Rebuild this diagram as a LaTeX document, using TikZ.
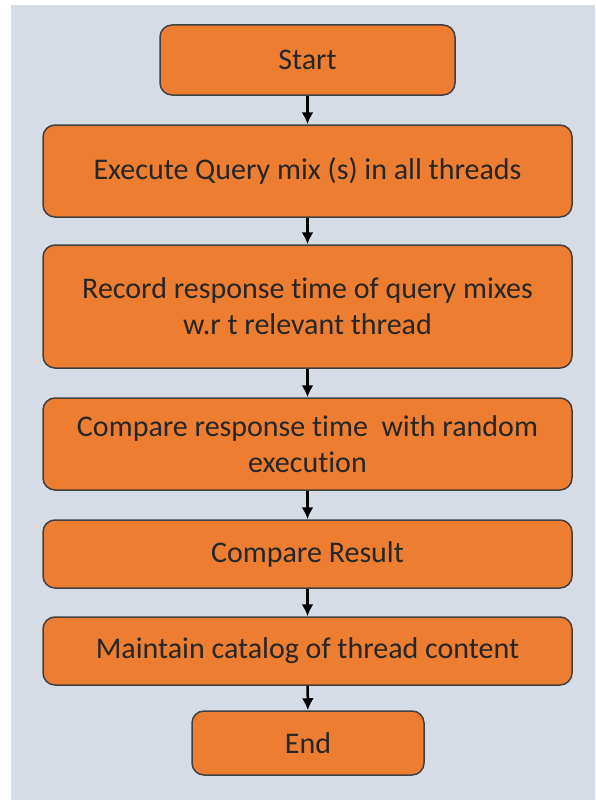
\documentclass[tikz,border=0pt]{standalone}
\usepackage{fontspec}
\setmainfont{Carlito}[Ligatures=NoCommon]
\usepackage{xcolor}
\definecolor{boxorange}{HTML}{ED7D31}
\definecolor{boxline}{HTML}{404040}
\definecolor{pagebg}{HTML}{D6DCE5}
\tikzset{
  stepbox/.style={draw=boxline, line width=1.5pt, fill=boxorange, rounded corners=12pt,
    align=center, inner sep=0pt, font=\fontsize{30}{36}\selectfont, text=black!85},
  flow/.style={-{Latex[length=12pt,width=12pt]}, line width=2.5pt}
}
\usetikzlibrary{arrows.meta}
\begin{document}
\begin{tikzpicture}[x=1pt,y=-1pt]
            \useasboundingbox (0,0) rectangle (595,800);
            \fill[pagebg] (11,5) rectangle (595,800);

            \node[stepbox, minimum width=295pt, minimum height=70pt] (start) at (307.5,60) {Start};
            \node[stepbox, minimum width=529pt, minimum height=92pt] (exec) at (307.5,171) {Execute Query mix (s) in all threads};
            \node[stepbox, minimum width=529pt, minimum height=123pt] (record) at (307.5,306.5) {Record response time of query mixes\\w.r t relevant thread};
            \node[stepbox, minimum width=529pt, minimum height=92pt] (cmpresp) at (307.5,444) {Compare response time\ \ with random\\execution};
            \node[stepbox, minimum width=529pt, minimum height=68pt] (cmpres) at (307.5,554) {Compare Result};
            \node[stepbox, minimum width=529pt, minimum height=68pt] (catalog) at (307.5,651) {Maintain catalog of thread content};
            \node[stepbox, minimum width=232pt, minimum height=64pt] (end) at (308,743) {End};

            \draw[flow] (start) -- (exec);
            \draw[flow] (exec) -- (record);
            \draw[flow] (record) -- (cmpresp);
            \draw[flow] (cmpresp) -- (cmpres);
            \draw[flow] (cmpres) -- (catalog);
            \draw[flow] (catalog) -- (end);
        \end{tikzpicture}
\end{document}
